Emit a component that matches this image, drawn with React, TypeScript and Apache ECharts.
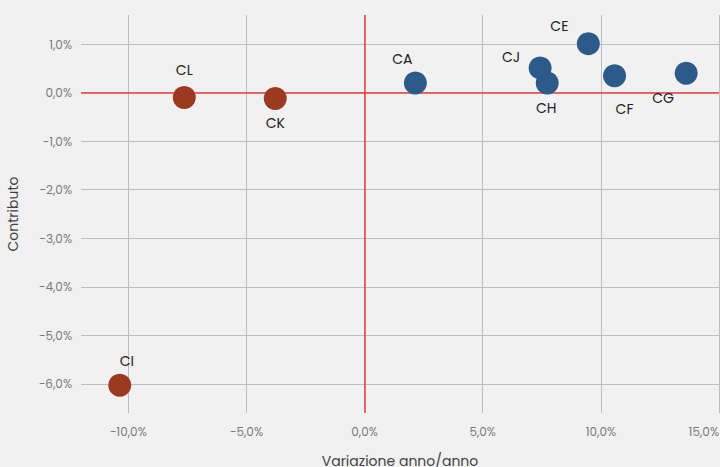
import React, { useEffect, useRef } from "react";
import * as echarts from "echarts";

const names = ["CA", "CE", "CF", "CG", "CH", "CJ", "CI", "CK", "CL"];
const variazione = [2.15, 9.47, 10.58, 13.61, 7.73, 7.43, -10.36, -3.78, -7.63];
const contributo = [0.2, 1.01, 0.35, 0.4, 0.2, 0.51, -6.03, -0.12, -0.1];
const groups = ["pos", "pos", "pos", "pos", "pos", "pos", "neg", "neg", "neg"];

const labelOffsets: Record<string, [number, number]> = {
  CA: [-13, -24],
  CE: [-29, -18],
  CF: [10, 33],
  CG: [-23, 25],
  CH: [-1, 25],
  CJ: [-29, -11],
  CI: [7, -24],
  CK: [0, 25],
  CL: [0, -28],
};

const groupColors: Record<string, string> = { pos: "#2c5b8a", neg: "#9c3a21" };

const fmt = (v: number) => {
  const s = Math.abs(v).toFixed(1).replace(".", ",") + "%";
  return v < 0 ? "\u2212" + s : s;
};

export default function App() {
  const ref = useRef<HTMLDivElement>(null);
  useEffect(() => {
    if (!ref.current) return;
    const chart = echarts.init(ref.current, undefined, { renderer: "svg" });
    const font = "Poppins, 'Noto Sans', sans-serif";
    const makeData = (g: string) =>
      names
        .map((n, i) => ({ n, i }))
        .filter(({ i }) => groups[i] === g)
        .map(({ n, i }) => ({
          name: n,
          value: [variazione[i], contributo[i]],
          label: { offset: labelOffsets[n] },
        }));
    const seriesBase = (g: string) => ({
      type: "scatter",
      symbolSize: 23,
      itemStyle: { color: groupColors[g], opacity: 1 },
      label: {
        show: true,
        position: "inside",
        formatter: (p: any) => p.name,
        color: "#222",
        fontSize: 14,
        fontFamily: font,
      },
      data: makeData(g),
      z: 3,
    });
    chart.setOption({
      animation: false,
      backgroundColor: "#f1f1f1",
      grid: { left: 81, right: 1, top: 15, bottom: 54, containLabel: false, outerBoundsMode: "none" },
      xAxis: {
        type: "value",
        min: -12,
        max: 15,
        minInterval: 5,
        maxInterval: 5,
        name: "Variazione anno/anno",
        nameLocation: "middle",
        nameGap: 41,
        nameTextStyle: { color: "#444", fontSize: 14, fontFamily: font },
        axisLine: { show: false },
        axisTick: { show: false },
        axisLabel: {
          color: "#7a7a7a",
          fontSize: 12,
          fontFamily: font,
          margin: 12,
          showMinLabel: false,
          alignMaxLabel: "right",
          formatter: fmt,
        },
        splitLine: { show: true, showMinLine: false, showMaxLine: true, lineStyle: { color: "#bdbdbd", width: 1 } },
      },
      yAxis: {
        type: "value",
        min: -6.6,
        max: 1.6,
        minInterval: 1,
        maxInterval: 1,
        name: "Contributo",
        nameLocation: "middle",
        nameGap: 61,
        nameTextStyle: { color: "#444", fontSize: 14, fontFamily: font },
        axisLine: { show: false },
        axisTick: { show: false },
        axisLabel: {
          color: "#7a7a7a",
          fontSize: 12,
          fontFamily: font,
          margin: 9,
          showMinLabel: false,
          showMaxLabel: false,
          formatter: fmt,
        },
        splitLine: { show: true, showMinLine: false, showMaxLine: false, lineStyle: { color: "#bdbdbd", width: 1 } },
      },
      series: [
        {
          ...seriesBase("pos"),
          markLine: {
            silent: true,
            symbol: "none",
            label: { show: false },
            lineStyle: { color: "#f23c3c", width: 1.5, type: "solid" },
            data: [{ xAxis: 0 }, { yAxis: 0 }],
            z: 1,
          },
        },
        seriesBase("neg"),
      ],
    });
    return () => chart.dispose();
  }, []);
  return (
    <div
      ref={ref}
      style={{ position: "fixed", left: 0, top: 0, width: 720, height: 467 }}
    />
  );
}
